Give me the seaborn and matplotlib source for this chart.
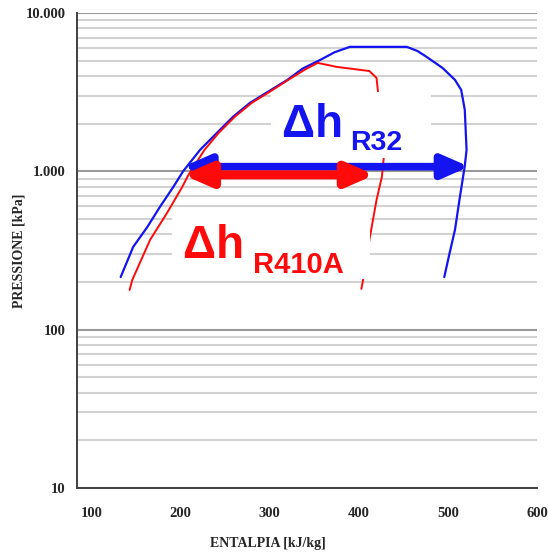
import matplotlib
matplotlib.use("Agg")
import matplotlib.pyplot as plt
import seaborn as sns
from matplotlib import font_manager
from matplotlib.ticker import FixedLocator, LogLocator, FuncFormatter, NullFormatter

# saturation curves (enthalpy kJ/kg, pressure kPa)
h_r32 = [133, 147, 163, 177, 192, 203, 222, 241, 259, 278, 298, 320, 337, 357, 373, 390,
         420, 454, 466, 476, 494, 508, 515, 519, 521, 519, 513, 508, 502, 496]
p_r32 = [215, 333, 446, 596, 796, 1000, 1365, 1750, 2210, 2705, 3175, 3780, 4450, 5060, 5650, 6110,
         6110, 6110, 5750, 5290, 4500, 3780, 3265, 2445, 1365, 1082, 659, 427, 305, 215]

h_r410a = [143, 146, 166, 185, 202, 209, 227, 243, 261, 280, 300, 321, 340, 354, 375, 412,
           420, 424, 429, 426, 420, 412, 407, 403]
p_r410a = [178, 206, 369, 546, 796, 948, 1365, 1750, 2210, 2705, 3175, 3780, 4400, 4840, 4570, 4300,
           3890, 2400, 1365, 923, 659, 369, 238, 181]

# delta h arrows: start / end enthalpy and pressure level
dh_r32 = [203, 524]
dh_r32_p = 1070
dh_r410a = [203, 418]
dh_r410a_p = 950

x_ticks = [100, 200, 300, 400, 500, 600]
y_ticks = [10, 100, 1000, 10000]

BLUE = "#1414f0"
RED = "#ff0a0a"

sns.set_style("white")
names = {f.name for f in font_manager.fontManager.ttflist}
sans = "Liberation Sans Narrow" if "Liberation Sans Narrow" in names else "Liberation Sans"
serif = "Liberation Serif"
plt.rcParams["font.family"] = [serif, "DejaVu Serif"]

fig = plt.figure(figsize=(5.48, 5.55), dpi=100)
ax = fig.add_axes([0.1405, 0.1207, 0.8394, 0.8559])

sns.lineplot(x=h_r32, y=p_r32, sort=False, estimator=None, color=BLUE, lw=1.6, ax=ax, zorder=3)
sns.lineplot(x=h_r410a, y=p_r410a, sort=False, estimator=None, color=RED, lw=1.4, ax=ax, zorder=3)

ax.set_yscale("log")
ax.set_xlim(84, 600)
ax.set_ylim(10, 10000)

ax.xaxis.set_major_locator(FixedLocator(x_ticks))
ax.yaxis.set_major_locator(FixedLocator(y_ticks))
ax.yaxis.set_minor_locator(LogLocator(base=10, subs=range(2, 10)))
ax.yaxis.set_major_formatter(FuncFormatter(lambda v, _: f"{v:,.0f}".replace(",", ".")))
ax.yaxis.set_minor_formatter(NullFormatter())

ax.grid(which="major", axis="y", color="#9a9a9a", lw=1.5, zorder=0)
ax.grid(which="minor", axis="y", color="#d2d2d2", lw=1.5, zorder=0)
ax.set_axisbelow(True)

for s in ["top", "right"]:
    ax.spines[s].set_visible(False)
for s in ["left", "bottom"]:
    ax.spines[s].set_color("#404040")
    ax.spines[s].set_linewidth(1.4)

ax.tick_params(which="major", direction="out", length=5, width=1.2, color="#404040",
               labelsize=10.5, pad=3)
ax.tick_params(axis="x", pad=9)
ax.tick_params(which="minor", length=0)
for lab in ax.get_xticklabels() + ax.get_yticklabels():
    lab.set_fontweight("bold")

ax.set_xlabel("ENTALPIA [kJ/kg]", fontsize=10, fontweight="bold", va="top")
ax.set_ylabel("PRESSIONE [kPa]", fontsize=10, fontweight="bold", va="bottom")
ax.xaxis.set_label_coords(0.415, -0.103)
ax.yaxis.set_label_coords(-0.112, 0.5)

# big labels sit on a white box that masks grid and curves, like in the original;
# trailing spaces stretch the box under the subscript
box = dict(facecolor="white", edgecolor="none", boxstyle="square,pad=0.25")
ax.text(314, 1648, "Δh      ", color=BLUE, fontsize=33, fontweight="bold", family=sans,
        va="baseline", ha="left", bbox=box, zorder=4)
ax.text(390, 1365, "R32", color=BLUE, fontsize=20.5, fontweight="bold", family=sans,
        va="baseline", ha="left", zorder=4.5)
ax.text(203, 284, "Δh         ", color=RED, fontsize=33, fontweight="bold", family=sans,
        va="baseline", ha="left", bbox=box, zorder=4)
ax.text(281, 228, "R410A", color=RED, fontsize=21, fontweight="bold", family=sans,
        va="baseline", ha="left", zorder=4.5)

# delta h arrows
ax.annotate("", xy=(dh_r32[1], dh_r32_p), xytext=(dh_r32[0], dh_r32_p),
            arrowprops=dict(arrowstyle="<|-|>,head_length=0.8,head_width=0.35", color=BLUE,
                            lw=5.5, shrinkA=0, shrinkB=0, mutation_scale=20), zorder=5)
ax.annotate("", xy=(dh_r410a[1], dh_r410a_p), xytext=(dh_r410a[0], dh_r410a_p),
            arrowprops=dict(arrowstyle="<|-|>,head_length=0.8,head_width=0.35", color=RED,
                            lw=6.5, shrinkA=0, shrinkB=0, mutation_scale=20), zorder=6)

fig.savefig("out.png", dpi=100)
